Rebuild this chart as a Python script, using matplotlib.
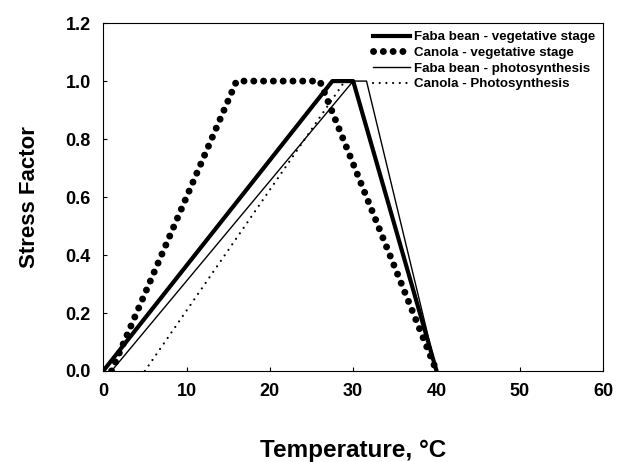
import matplotlib.pyplot as plt

plt.rcParams['font.family'] = ['Liberation Sans', 'DejaVu Sans']

# breakpoints (temperature, stress factor)
faba_veg_t = [0, 27.5, 30, 40]
faba_veg_s = [0, 1.0, 1.0, 0]

canola_veg_t = [1, 16, 26, 40]
canola_veg_s = [0, 1.0, 1.0, 0]

faba_ph_t = [1, 30, 31.6, 40]
faba_ph_s = [0, 1.0, 1.0, 0]

canola_ph_t = [5, 29, 30, 40]
canola_ph_s = [0, 1.0, 1.0, 0]

fig = plt.figure(figsize=(6.18, 4.62), dpi=100)
ax = fig.add_axes([0.167, 0.197, 0.809, 0.753])

ax.plot(faba_veg_t, faba_veg_s, color="black", lw=3.0,
        label="Faba bean - vegetative stage")
ax.plot(canola_veg_t, canola_veg_s, color="black", lw=5.0, linestyle=(0, (0.01, 1.4)),
        dash_capstyle="round", label="Canola - vegetative stage")
ax.plot(faba_ph_t, faba_ph_s, color="black", lw=1.0,
        label="Faba bean - photosynthesis")
ax.plot(canola_ph_t, canola_ph_s, color="black", lw=1.6, linestyle=(0, (0.01, 3)),
        dash_capstyle="round", label="Canola - Photosynthesis")

ax.set_xlim(0, 60)
ax.set_ylim(0, 1.2)
ax.set_xticks([0, 10, 20, 30, 40, 50, 60])
ax.set_yticks([0.0, 0.2, 0.4, 0.6, 0.8, 1.0, 1.2])
ax.set_yticklabels([f"{v:.1f}" for v in ax.get_yticks()])
ax.tick_params(direction="in", length=3, width=0.8, labelsize=13, pad=9)
for lbl in ax.get_xticklabels() + ax.get_yticklabels():
    lbl.set_fontweight("bold")
for sp in ax.spines.values():
    sp.set_linewidth(0.8)

ax.set_xlabel("Temperature, °C", fontsize=17.5, fontweight="bold", labelpad=28)
ax.set_ylabel("Stress Factor", fontsize=16, fontweight="bold", labelpad=18)

leg = ax.legend(loc="upper right", frameon=False, fontsize=9.6, handlelength=2.8,
                labelspacing=0.25, borderaxespad=0.2, handletextpad=0.3)
for t in leg.get_texts():
    t.set_fontweight("bold")

fig.savefig("out.png", dpi=100)
